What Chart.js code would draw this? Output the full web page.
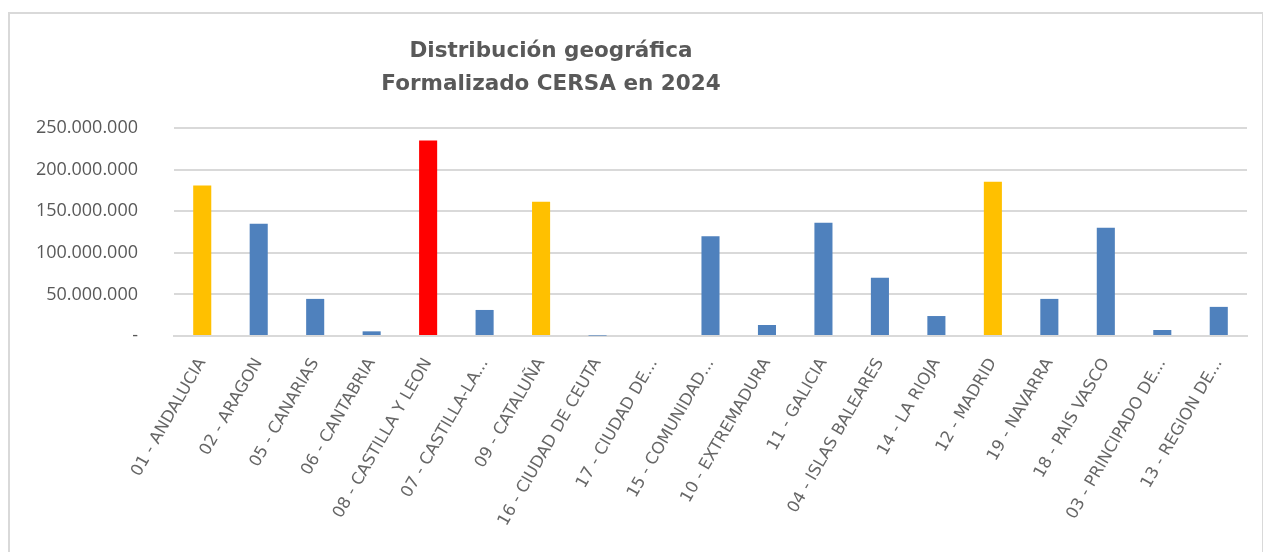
<!DOCTYPE html>
<html>
<head>
<meta charset="utf-8">
<script src="https://cdn.jsdelivr.net/npm/chart.js@4.4.1/dist/chart.umd.min.js"></script>
<style>
  html, body { margin: 0; padding: 0; background: #fff; }
  #wrap { position: relative; width: 1263px; height: 552px; overflow: hidden; }
  #frame {
    position: absolute; left: 8px; top: 12px; width: 1256px; height: 600px;
    border: 2px solid #d9d9d9; box-sizing: border-box;
  }
  #title {
    position: absolute; left: 301px; width: 500px; top: 33px;
    text-align: center; color: #595959;
    font: bold 21.5px "DejaVu Sans", sans-serif; line-height: 33px;
  }
  #chart { position: absolute; left: 0; top: 0; }
</style>
</head>
<body>
<div id="wrap">
  <div id="frame"></div>
  <canvas id="chart" width="1263" height="552"></canvas>
  <div id="title">Distribución geográfica<br>Formalizado CERSA en 2024</div>
</div>
<script>
// comunidades, en el orden del gráfico original
const regiones = [
  '01 - ANDALUCIA', '02 - ARAGON', '05 - CANARIAS', '06 - CANTABRIA',
  '08 - CASTILLA Y LEON', '07 - CASTILLA-LA...', '09 - CATALUÑA',
  '16 - CIUDAD DE CEUTA', '17 - CIUDAD DE...', '15 - COMUNIDAD...',
  '10 - EXTREMADURA', '11 - GALICIA', '04 - ISLAS BALEARES', '14 - LA RIOJA',
  '12 - MADRID', '19 - NAVARRA', '18 - PAIS VASCO', '03 - PRINCIPADO DE...',
  '13 - REGION DE...'
];

// importe formalizado (euros)
const formalizado = [
  181000000, 135000000, 44600000, 5600000,
  235000000, 31300000, 161400000,
  500000, 0, 120000000,
  13200000, 136000000, 70000000, 24000000,
  185500000, 44600000, 130000000, 7200000,
  35000000
];

const yTicks = [0, 50000000, 100000000, 150000000, 200000000, 250000000];

const AZUL = '#4f81bd';
const AMARILLO = '#ffc000';
const ROJO = '#ff0000';
const GRIS = '#595959';

function formatoPuntos(v) {
  if (v === 0) return '-';
  return String(v).replace(/\B(?=(\d{3})+(?!\d))/g, '.');
}

const maximo = Math.max(...formalizado);

const ctx = document.getElementById('chart').getContext('2d');
new Chart(ctx, {
  type: 'bar',
  data: {
    labels: regiones,
    datasets: [{
      data: formalizado,
      // rojo el mayor, amarillo por encima de 150M, resto azul
      backgroundColor: function (c) {
        const v = c.raw;
        if (v === maximo) return ROJO;
        if (v > 150000000) return AMARILLO;
        return AZUL;
      },
      categoryPercentage: 1,
      barPercentage: 0.32
    }]
  },
  options: {
    responsive: false,
    animation: false,
    layout: {
      padding: { left: 0, right: 16, top: 128, bottom: 0 }
    },
    scales: {
      x: {
        grid: { display: false },
        border: { color: '#d9d9d9', width: 2 },
        ticks: {
          color: '#666666',
          font: { family: 'DejaVu Sans', size: 16.5 },
          minRotation: 60,
          maxRotation: 60,
          autoSkip: false,
          padding: 11
        },
        afterFit: function (scale) { scale.height = 216; }
      },
      y: {
        min: 0,
        max: 250000000,
        afterBuildTicks: function (scale) {
          scale.ticks = yTicks.map(v => ({ value: v }));
        },
        grid: { color: '#d9d9d9', lineWidth: 2, drawTicks: false },
        border: { display: false },
        ticks: {
          color: GRIS,
          font: { family: 'Open Sans', size: 18 },
          padding: 36,
          callback: function (v) { return formatoPuntos(v); }
        },
        afterFit: function (scale) { scale.width = 174; }
      }
    },
    plugins: {
      legend: { display: false },
      tooltip: { enabled: false }
    }
  }
});
</script>
</body>
</html>
